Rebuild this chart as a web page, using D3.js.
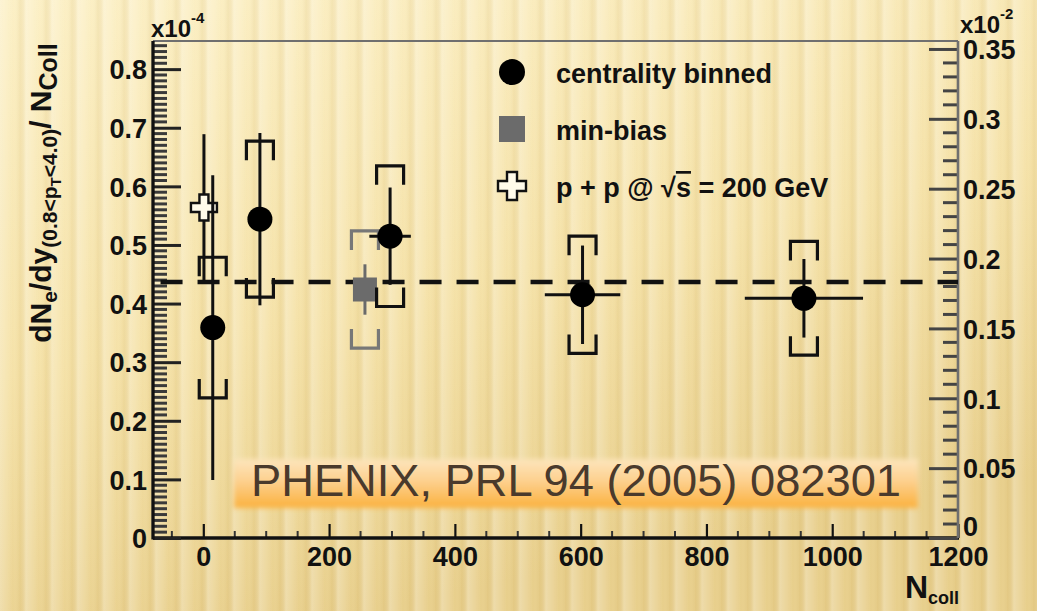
<!DOCTYPE html>
<html>
<head>
<meta charset="utf-8">
<script src="https://cdn.jsdelivr.net/npm/d3@7"></script>
<style>
  html, body { margin: 0; padding: 0; background: #f4e2a8; }
  svg { display: block; }
  text { font-family: "Liberation Sans", Arial, Helvetica, sans-serif; }
</style>
</head>
<body>
<svg id="chart" width="1037" height="611"></svg>
<script>
// ---- data ----
// Centrality-binned points: N_coll, value (x10^-4), stat. error, syst. error, N_coll half-width
const centralityNcoll = [15, 90, 297, 603, 955];
const centralityValue = [0.359, 0.544, 0.515, 0.415, 0.409];
const centralityStat  = [0.260, 0.147, 0.083, 0.084, 0.067];
const centralitySyst  = [0.120, 0.133, 0.120, 0.100, 0.097];
const centralityXerr  = [0, 0, 33, 60, 94];

// Minimum-bias point
const minBiasNcoll = [257];
const minBiasValue = [0.424];
const minBiasStat  = [0.043];
const minBiasSyst  = [0.100];

// p+p reference point
const ppNcoll = [1];
const ppValue = [0.564];
const ppStat  = [0.125];

// Horizontal reference level
const referenceLevel = [0.437];

// Axis ticks
const xMajorTicks = [0, 200, 400, 600, 800, 1000, 1200];
const leftMajorTicks = [0, 0.1, 0.2, 0.3, 0.4, 0.5, 0.6, 0.7, 0.8];
const leftTickLabels = ["0", "0.1", "0.2", "0.3", "0.4", "0.5", "0.6", "0.7", "0.8"];
const rightMajorTicks = [0, 0.05, 0.1, 0.15, 0.2, 0.25, 0.3, 0.35];
const rightTickLabels = ["0", "0.05", "0.1", "0.15", "0.2", "0.25", "0.3", "0.35"];

const legendLabels = ["centrality binned", "min-bias", "p + p @ "];
const citation = "PHENIX, PRL 94 (2005) 082301";

// ---- layout ----
const W = 1037, H = 611;
const plot = { left: 153, right: 958, top: 41, bottom: 538 };

const svg = d3.select("#chart");
const defs = svg.append("defs");

// Background: warm gradient with soft vertical stripes
const bgGrad = defs.append("linearGradient").attr("id", "bgGrad")
  .attr("x1", "0").attr("y1", "0").attr("x2", "0.35").attr("y2", "1");
bgGrad.append("stop").attr("offset", "0").attr("stop-color", "#fcf0c6");
bgGrad.append("stop").attr("offset", "0.55").attr("stop-color", "#f5e2a8");
bgGrad.append("stop").attr("offset", "1").attr("stop-color", "#e8cf8c");

const stripeGrad = defs.append("linearGradient").attr("id", "stripeGrad")
  .attr("x1", "0").attr("y1", "0").attr("x2", "1").attr("y2", "0");
stripeGrad.append("stop").attr("offset", "0").attr("stop-color", "#fff").attr("stop-opacity", 0.26);
stripeGrad.append("stop").attr("offset", "0.5").attr("stop-color", "#fff").attr("stop-opacity", 0.0);
stripeGrad.append("stop").attr("offset", "0.75").attr("stop-color", "#b8923c").attr("stop-opacity", 0.09);
stripeGrad.append("stop").attr("offset", "1").attr("stop-color", "#fff").attr("stop-opacity", 0.26);

const pat = defs.append("pattern").attr("id", "stripes")
  .attr("patternUnits", "userSpaceOnUse").attr("width", 26).attr("height", H);
pat.append("rect").attr("width", 26).attr("height", H).attr("fill", "url(#stripeGrad)");

svg.append("rect").attr("width", W).attr("height", H).attr("fill", "url(#bgGrad)");
svg.append("rect").attr("width", W).attr("height", H).attr("fill", "url(#stripes)");

// ---- scales ----
const x = d3.scaleLinear().domain([-80, 1200]).range([plot.left, plot.right]);
const yL = d3.scaleLinear().domain([0, 0.848]).range([plot.bottom, plot.top]);
const yR = d3.scaleLinear().domain([0, 0.3557]).range([plot.bottom, plot.top]);

const ink = "#111";

// ---- frame ----
svg.append("line")
  .attr("x1", plot.left).attr("x2", plot.right)
  .attr("y1", plot.top).attr("y2", plot.top)
  .attr("stroke", "#6f6f6f").attr("stroke-width", 2.2);

// ---- bottom axis ----
const xMinor = d3.range(-50, 1201, 50).filter(v => !xMajorTicks.includes(v));
const xAxis = d3.axisBottom(x).tickValues(xMajorTicks).tickSize(-14).tickFormat(d3.format("d")).tickPadding(20);
const gx = svg.append("g").attr("transform", `translate(0,${plot.bottom})`).call(xAxis);
gx.select(".domain").remove();
gx.selectAll(".tick line").attr("stroke", ink).attr("stroke-width", 2.2);
gx.selectAll(".tick text")
  .attr("fill", ink).attr("font-size", 27).attr("font-weight", "bold")
  .attr("dy", "0.72em").attr("y", 9);
gx.selectAll(".minor").data(xMinor).enter().append("line").attr("class", "minor")
  .attr("x1", d => x(d)).attr("x2", d => x(d)).attr("y1", 0).attr("y2", -7)
  .attr("stroke", "#333").attr("stroke-width", 2);
svg.append("line")
  .attr("x1", plot.left).attr("x2", plot.right + 1)
  .attr("y1", plot.bottom).attr("y2", plot.bottom)
  .attr("stroke", ink).attr("stroke-width", 3.3);

// ---- left axis ----
const leftMinor = d3.range(0, 85).map(i => i / 100).filter(v => Math.round(v * 100) % 10 !== 0);
const leftAxis = d3.axisRight(yL).tickValues(leftMajorTicks).tickSize(28)
  .tickFormat((d, i) => leftTickLabels[i]);
const gl = svg.append("g").attr("transform", `translate(${plot.left},0)`).call(leftAxis);
gl.select(".domain").remove();
gl.selectAll(".tick line").attr("stroke", "#222").attr("stroke-width", 3);
gl.selectAll(".tick text")
  .attr("x", -6).attr("text-anchor", "end")
  .attr("fill", ink).attr("font-size", 27).attr("font-weight", "bold").attr("dy", "0.36em");
gl.selectAll(".minor").data(leftMinor).enter().append("line").attr("class", "minor")
  .attr("x1", 0).attr("x2", 14).attr("y1", d => yL(d)).attr("y2", d => yL(d))
  .attr("stroke", "#3a3a3a").attr("stroke-width", 3);
svg.append("line")
  .attr("x1", plot.left).attr("x2", plot.left)
  .attr("y1", plot.top).attr("y2", plot.bottom + 1.5)
  .attr("stroke", ink).attr("stroke-width", 3.3);

// ---- right axis ----
const rightMinor = d3.range(0, 36).map(i => i / 100).filter(v => Math.round(v * 100) % 5 !== 0);
const rightAxis = d3.axisLeft(yR).tickValues(rightMajorTicks).tickSize(29)
  .tickFormat((d, i) => rightTickLabels[i]);
const gr = svg.append("g").attr("transform", `translate(${plot.right},0)`).call(rightAxis);
gr.select(".domain").remove();
gr.selectAll(".tick line").attr("stroke", "#444").attr("stroke-width", 3);
gr.selectAll(".tick text")
  .attr("x", 5).attr("text-anchor", "start")
  .attr("fill", ink).attr("font-size", 27).attr("font-weight", "bold")
  .attr("dy", (d, i) => i === 0 ? "-0.1em" : "0.36em");
gr.selectAll(".minor").data(rightMinor).enter().append("line").attr("class", "minor")
  .attr("x1", 0).attr("x2", -15).attr("y1", d => yR(d)).attr("y2", d => yR(d))
  .attr("stroke", "#444").attr("stroke-width", 3);
svg.append("line")
  .attr("x1", plot.right).attr("x2", plot.right)
  .attr("y1", plot.top).attr("y2", plot.bottom)
  .attr("stroke", "#6f6f6f").attr("stroke-width", 2.6);

// ---- exponent labels ----
function exponent(xPos, yPos, power) {
  const t = svg.append("text").attr("x", xPos).attr("y", yPos)
    .attr("font-size", 24).attr("font-weight", "bold").attr("fill", ink);
  t.append("tspan").text("x10");
  t.append("tspan").attr("dy", -14).attr("font-size", 15).text(power);
}
exponent(151, 37, "-4");
exponent(960, 33, "-2");

// ---- axis titles ----
const yTitle = svg.append("text")
  .attr("transform", "translate(51,193) rotate(-90)")
  .attr("text-anchor", "middle").attr("font-weight", "bold").attr("fill", ink);
yTitle.append("tspan").attr("font-size", 30).text("dN");
yTitle.append("tspan").attr("font-size", 21).attr("dy", 6).text("e");
yTitle.append("tspan").attr("font-size", 30).attr("dy", -6).text("/dy");
yTitle.append("tspan").attr("font-size", 21).attr("dy", 6).text("(0.8<p");
yTitle.append("tspan").attr("font-size", 15).attr("dy", 4).text("T");
yTitle.append("tspan").attr("font-size", 21).attr("dy", -4).text("<4.0)");
yTitle.append("tspan").attr("font-size", 30).attr("dy", -6).text("/ N");
yTitle.append("tspan").attr("font-size", 25).attr("dy", 6).text("Coll");

const xTitle = svg.append("text").attr("x", 905).attr("y", 598)
  .attr("font-weight", "bold").attr("fill", ink);
xTitle.append("tspan").attr("font-size", 32).text("N");
xTitle.append("tspan").attr("font-size", 18).attr("dy", 6).text("coll");

// ---- reference dashed line ----
svg.append("line")
  .attr("x1", x(-68)).attr("x2", plot.right)
  .attr("y1", yL(referenceLevel[0])).attr("y2", yL(referenceLevel[0]))
  .attr("stroke", ink).attr("stroke-width", 4.5)
  .attr("stroke-dasharray", "22 15");

// ---- error-bar helpers ----
function brackets(g, cx, cyTop, cyBot, color) {
  const hw = 13.5, leg = 19;
  g.append("path")
    .attr("d", `M${cx - hw},${cyTop + leg}V${cyTop}H${cx + hw}V${cyTop + leg}` +
               `M${cx - hw},${cyBot - leg}V${cyBot}H${cx + hw}V${cyBot - leg}`)
    .attr("fill", "none").attr("stroke", color).attr("stroke-width", 3.2);
}

const dataLayer = svg.append("g");

// min-bias point (grey)
minBiasNcoll.forEach((n, i) => {
  const cx = x(n), cy = yL(minBiasValue[i]);
  brackets(dataLayer, cx, yL(minBiasValue[i] + minBiasSyst[i]), yL(minBiasValue[i] - minBiasSyst[i]), "#777");
  dataLayer.append("line").attr("x1", cx).attr("x2", cx)
    .attr("y1", yL(minBiasValue[i] + minBiasStat[i])).attr("y2", yL(minBiasValue[i] - minBiasStat[i]))
    .attr("stroke", "#6a6a6a").attr("stroke-width", 3);
  dataLayer.append("rect").attr("x", cx - 12).attr("y", cy - 12)
    .attr("width", 24).attr("height", 24).attr("fill", "#6b6b6b");
});

// p+p point (open cross)
function crossPath(cx, cy, L, a) {
  return `M${cx - a},${cy - L}H${cx + a}V${cy - a}H${cx + L}V${cy + a}H${cx + a}V${cy + L}` +
         `H${cx - a}V${cy + a}H${cx - L}V${cy - a}H${cx - a}Z`;
}
ppNcoll.forEach((n, i) => {
  const cx = x(n), cy = yL(ppValue[i]);
  dataLayer.append("line").attr("x1", cx).attr("x2", cx)
    .attr("y1", yL(ppValue[i] + ppStat[i])).attr("y2", yL(ppValue[i] - ppStat[i]))
    .attr("stroke", ink).attr("stroke-width", 3);
  dataLayer.append("path").attr("d", crossPath(cx, cy, 13, 4.5))
    .attr("fill", "#fffbea").attr("stroke", ink).attr("stroke-width", 2.4);
});

// centrality-binned points (filled circles)
centralityNcoll.forEach((n, i) => {
  const cx = x(n), cy = yL(centralityValue[i]);
  brackets(dataLayer, cx, yL(centralityValue[i] + centralitySyst[i]), yL(centralityValue[i] - centralitySyst[i]), ink);
  dataLayer.append("line").attr("x1", cx).attr("x2", cx)
    .attr("y1", yL(centralityValue[i] + centralityStat[i])).attr("y2", yL(centralityValue[i] - centralityStat[i]))
    .attr("stroke", ink).attr("stroke-width", 3);
  if (centralityXerr[i] > 0) {
    dataLayer.append("line")
      .attr("x1", x(n - centralityXerr[i])).attr("x2", x(n + centralityXerr[i]))
      .attr("y1", cy).attr("y2", cy)
      .attr("stroke", ink).attr("stroke-width", 3);
  }
  dataLayer.append("circle").attr("cx", cx).attr("cy", cy).attr("r", 12.5).attr("fill", "#000");
});

// ---- legend ----
const lg = svg.append("g");
lg.append("circle").attr("cx", 512).attr("cy", 72).attr("r", 13).attr("fill", "#000");
lg.append("rect").attr("x", 499).attr("y", 116).attr("width", 26).attr("height", 26).attr("fill", "#6b6b6b");
lg.append("path").attr("d", crossPath(512, 186, 14, 5))
  .attr("fill", "#fffbea").attr("stroke", ink).attr("stroke-width", 2.4);
const legendY = [83, 140, 197];
legendLabels.forEach((lab, i) => {
  const t = lg.append("text").attr("x", 556).attr("y", legendY[i])
    .attr("font-size", 27).attr("font-weight", "bold").attr("fill", ink);
  t.append("tspan").text(lab);
  if (i === 2) {
    t.append("tspan").text("\u221A");
    t.append("tspan").attr("text-decoration", "overline").text("s");
    t.append("tspan").text(" = 200 GeV");
  }
});

// ---- citation banner ----
const banGrad = defs.append("linearGradient").attr("id", "banGrad")
  .attr("x1", "0").attr("y1", "0").attr("x2", "0").attr("y2", "1");
banGrad.append("stop").attr("offset", "0").attr("stop-color", "#fde6bd");
banGrad.append("stop").attr("offset", "0.45").attr("stop-color", "#fdd08e");
banGrad.append("stop").attr("offset", "1").attr("stop-color", "#fbb13d");
const soft = defs.append("filter").attr("id", "soft").attr("x", "-5%").attr("y", "-30%")
  .attr("width", "110%").attr("height", "160%");
soft.append("feGaussianBlur").attr("stdDeviation", 2.5);

svg.append("rect").attr("x", 234).attr("y", 459).attr("width", 684).attr("height", 49)
  .attr("fill", "url(#banGrad)").attr("filter", "url(#soft)");
svg.append("text").attr("x", 251).attr("y", 496)
  .attr("font-size", 45).attr("fill", "#4a3a2c")
  .attr("textLength", 650).attr("lengthAdjust", "spacingAndGlyphs")
  .text(citation);
</script>
</body>
</html>
